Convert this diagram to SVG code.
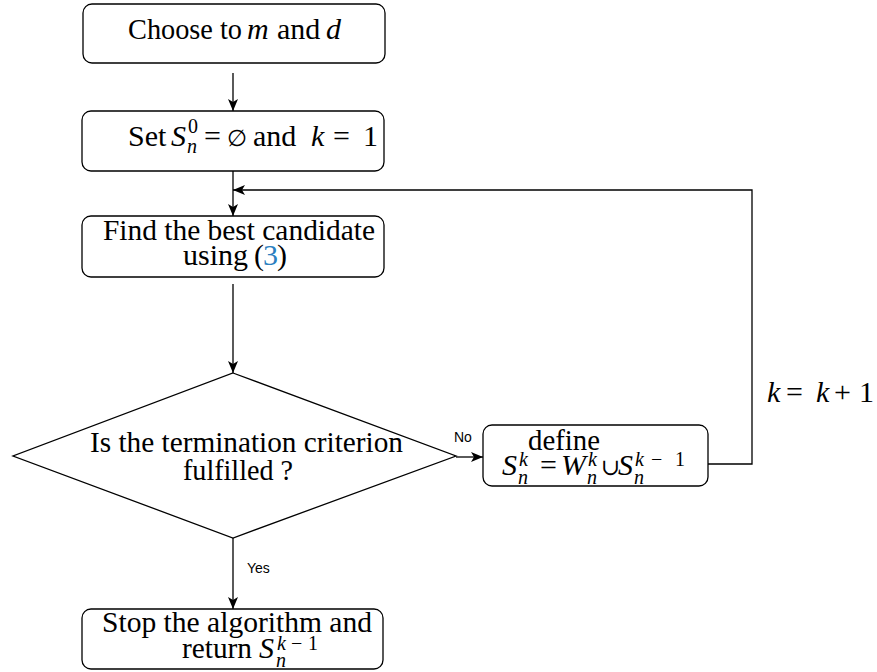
<svg xmlns="http://www.w3.org/2000/svg" width="877" height="672" viewBox="0 0 877 672">
<defs>
<style>
.box{fill:#fff;stroke:#000;stroke-width:1.3}
.t{font-family:"Liberation Serif","DejaVu Serif",serif;font-size:30px;fill:#000}
.i{font-style:italic}
.s{font-size:20px}
.sym{font-family:"DejaVu Serif",serif;font-size:23px}
.lbl{font-family:"Liberation Sans",Arial,sans-serif;font-size:14px;fill:#000}
.c{fill:none;stroke:#000;stroke-width:1.3}
</style>
<marker id="ah" markerWidth="12" markerHeight="10" refX="12" refY="5" orient="auto" markerUnits="userSpaceOnUse">
<path d="M0,0 L12,5 L0,10 L3,5 z" fill="#000"/>
</marker>
</defs>
<rect width="877" height="672" fill="#fff"/>

<g id="connectors">
<line class="c" x1="233" y1="73" x2="233" y2="111" marker-end="url(#ah)"/>
<line class="c" x1="233" y1="171" x2="233" y2="216" marker-end="url(#ah)"/>
<line class="c" x1="233" y1="284" x2="233" y2="373" marker-end="url(#ah)"/>
<line class="c" x1="456" y1="457" x2="483" y2="457" marker-end="url(#ah)"/>
<text class="lbl" x="454" y="442">No</text>
<polyline class="c" points="708,464 752,464 752,190 233,190" marker-end="url(#ah)"/>
<line class="c" x1="233" y1="538" x2="233" y2="609" marker-end="url(#ah)"/>
<text class="lbl" x="247" y="573">Yes</text>
<text class="t" y="402"><tspan class="i" x="767">k</tspan><tspan x="786">=</tspan><tspan class="i" x="816">k</tspan><tspan x="834">+</tspan><tspan x="859">1</tspan></text>
</g>

<g id="n1">
<rect class="box" x="83" y="4" width="302" height="59" rx="9"/>
<text class="t" y="39"><tspan x="128" textLength="114" lengthAdjust="spacingAndGlyphs">Choose to</tspan><tspan class="i" x="247">m</tspan><tspan x="277">and</tspan><tspan class="i" x="326">d</tspan></text>
</g>

<g id="n2">
<rect class="box" x="82" y="111" width="302" height="60" rx="9"/>
<text class="t" y="146"><tspan x="128">Set</tspan><tspan class="i" x="171">S</tspan><tspan class="s" x="188" y="133">0</tspan><tspan class="s i" x="187" y="153">n</tspan><tspan x="204" y="146">=</tspan><tspan class="sym" x="227">∅</tspan><tspan x="253">and</tspan><tspan class="i" x="311">k</tspan><tspan x="333">=</tspan><tspan x="363">1</tspan></text>
</g>

<g id="n3">
<rect class="box" x="82" y="216" width="302" height="61" rx="9"/>
<text class="t" x="103" y="240" textLength="272" lengthAdjust="spacingAndGlyphs">Find the best candidate</text>
<text class="t" y="265"><tspan x="183">using</tspan><tspan x="254">(</tspan><tspan x="263" fill="#2b7fc0">3</tspan><tspan x="277">)</tspan></text>
</g>

<g id="n4">
<polygon class="box" points="233,373 456,456 233,538 13,456"/>
<text class="t" x="90" y="452" textLength="313" lengthAdjust="spacingAndGlyphs">Is the termination criterion</text>
<text class="t" x="183" y="480" textLength="110" lengthAdjust="spacingAndGlyphs">fulfilled ?</text>
</g>

<g id="n5">
<rect class="box" x="483" y="425" width="225" height="61" rx="9"/>
<text class="t" x="528" y="450" textLength="72" lengthAdjust="spacingAndGlyphs">define</text>
<text class="t" y="475"><tspan class="i" x="502">S</tspan><tspan class="s i" x="519" y="466">k</tspan><tspan class="s i" x="518" y="484">n</tspan><tspan x="540" y="475">=</tspan><tspan class="i" x="561">W</tspan><tspan class="s i" x="588" y="466">k</tspan><tspan class="s i" x="587" y="484">n</tspan><tspan class="sym" x="601" y="475">∪</tspan><tspan class="i" x="618">S</tspan><tspan class="s i" x="635" y="466">k</tspan><tspan class="s" x="651" y="466">−</tspan><tspan class="s" x="675" y="466">1</tspan><tspan class="s i" x="634" y="484">n</tspan></text>
</g>

<g id="n6">
<rect class="box" x="82" y="609" width="301" height="60" rx="9"/>
<text class="t" x="102" y="632" textLength="270" lengthAdjust="spacingAndGlyphs">Stop the algorithm and</text>
<text class="t" y="658"><tspan x="182" textLength="70" lengthAdjust="spacingAndGlyphs">return</tspan><tspan class="i" x="259">S</tspan><tspan class="s i" x="277" y="650">k</tspan><tspan class="s" x="291" y="650">−</tspan><tspan class="s" x="308" y="650">1</tspan><tspan class="s i" x="276" y="667">n</tspan></text>
</g>
</svg>
